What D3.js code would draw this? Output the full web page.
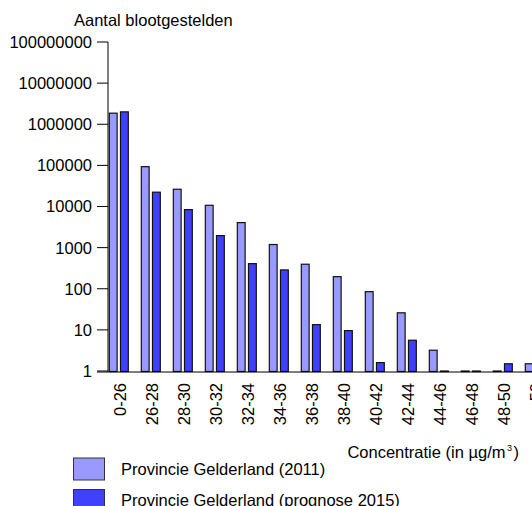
<!DOCTYPE html>
<html><head><meta charset="utf-8">
<script src="https://cdn.jsdelivr.net/npm/d3@7"></script>
<style>html,body{margin:0;padding:0;background:#fff;overflow:hidden}svg{display:block;font-family:"Liberation Sans",Arial,sans-serif}</style>
</head><body>
<script>
const categories = ["0-26","26-28","28-30","30-32","32-34","34-36","36-38","38-40","40-42","42-44","44-46","46-48","48-50",">50"];
const series = ["Provincie Gelderland (2011)","Provincie Gelderland (prognose 2015)"];
const values2011 = [1860000, 93000, 26300, 10700, 4060, 1190, 395, 197, 85, 26, 3.2, 1, 1, 1.5];
const values2015 = [2000000, 22300, 8400, 1960, 408, 287, 13.4, 9.6, 1.6, 5.6, 1, 1, 1.5, 1];
const yTicks = [1,10,100,1000,10000,100000,1000000,10000000,100000000];
const colors = ["#9999FF","#4040FF"];

const W=532,H=506;
const svg=d3.select("body").append("svg").attr("width",W).attr("height",H);
const fs=16.5;

const y=d3.scaleLog().domain([1,1e8]).range([371,42]);
const x=d3.scaleBand().domain(categories).range([102.8,102.8+14*32]).padding(0);
const xs=d3.scaleBand().domain([0,1]).range([6.5,25.5]).paddingInner(0.3);

// title
svg.append("text").attr("x",74).attr("y",26).attr("font-size",fs).text("Aantal blootgestelden");

// y axis
const ax=108;
svg.append("line").attr("x1",ax).attr("x2",ax).attr("y1",y(1e8)).attr("y2",372).attr("stroke","#000");
svg.selectAll(".yt").data(yTicks).enter().append("line")
  .attr("x1",97).attr("x2",ax).attr("y1",d=>y(d)).attr("y2",d=>y(d)).attr("stroke","#000");
svg.selectAll(".yl").data(yTicks).enter().append("text")
  .attr("x",92).attr("y",d=>y(d)).attr("dy","0.36em").attr("text-anchor","end").attr("font-size",fs).text(d=>d);

// bars
const data=[values2011,values2015];
data.forEach((vals,si)=>{
  svg.selectAll(".b"+si).data(categories).enter().append("rect")
    .attr("x",d=>x(d)+xs(si)).attr("width",xs.bandwidth())
    .attr("y",(d,i)=>y(vals[i])).attr("height",(d,i)=>Math.max(0,371.5-y(vals[i])))
    .attr("fill",colors[si]).attr("stroke","#111").attr("stroke-width",1.2);
});

// x axis line
svg.append("line").attr("x1",97).attr("x2",W).attr("y1",372).attr("y2",372).attr("stroke","#000");

// x labels
svg.selectAll(".xl").data(categories).enter().append("text")
  .attr("transform",d=>`translate(${x(d)+x.bandwidth()/2+1.5},383) rotate(-90)`)
  .attr("dy","0.36em").attr("text-anchor","end").attr("font-size",fs).text(d=>d);

// x title
const xt=svg.append("text").attr("x",519).attr("y",458).attr("text-anchor","end").attr("font-size",fs);
xt.append("tspan").text("Concentratie (in µg/m");
xt.append("tspan").attr("font-size",9).attr("dx",1.5).attr("dy",-7).text("3");
xt.append("tspan").attr("dx",1.5).attr("dy",7).text(")");

// legend
series.forEach((s,i)=>{
  svg.append("rect").attr("x",73.5).attr("y",458+i*31.5).attr("width",31).attr("height",22)
    .attr("fill",colors[i]).attr("stroke","#333").attr("stroke-width",1);
  svg.append("text").attr("x",121).attr("y",475+i*31).attr("font-size",fs).text(s);
});
</script>
</body></html>
